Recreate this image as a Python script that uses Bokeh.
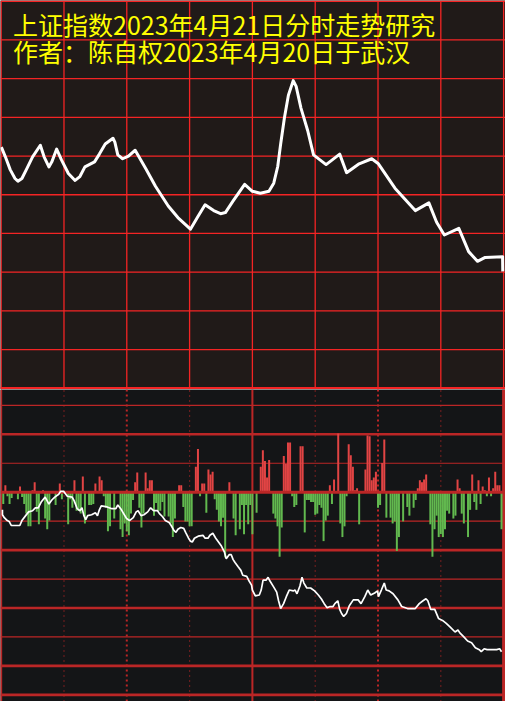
from bokeh.plotting import figure
from bokeh.layouts import column
from bokeh.models import Range1d, Label
from bokeh.embed import file_html
from bokeh.resources import INLINE

# ---------------- data ----------------
title_lines = ["上证指数2023年4月21日分时走势研究", "作者：陈自权2023年4月20日于武汉"]

# trading minutes (0..240) and grid levels
time_ticks = [0, 30, 60, 90, 120, 150, 180, 210, 240]
price_levels = [0, 1, 2, 3, 4, 5, 6, 7, 8, 9, 10]
lower_thin_levels = [3, 1, -1, -3, -5]
lower_thick_levels = [2, -2, -4, -6, -7]

# upper panel: price line (grid units)
price_t = [0.1, 2.0, 4.3, 6.6, 8.0, 9.9, 12.2, 15.0, 18.7, 20.5, 22.8, 24.2, 26.5, 28.8,
           32.1, 35.3, 37.6, 40.0, 44.6, 46.9, 49.7, 53.4, 54.3, 55.7, 58.0, 60.8, 64.0,
           69.1, 73.7, 79.8, 84.4, 90.4, 93.7, 97.4, 101.5, 104.8, 107.1, 110.8, 116.3,
           120.0, 123.8, 127.9, 130.2, 132.1, 133.5, 135.3, 137.2, 139.5, 140.9, 143.2,
           146.4, 149.2, 155.2, 161.7, 165.0, 171.0, 177.0, 180.2, 188.1, 197.8, 204.3,
           208.0, 211.7, 218.6, 223.3, 227.5, 231.2, 239.5, 239.6]
price_v = [6.23, 5.98, 5.65, 5.42, 5.35, 5.42, 5.67, 5.98, 6.28, 5.98, 5.72, 5.85, 6.18, 5.90,
           5.55, 5.37, 5.47, 5.72, 5.85, 6.05, 6.31, 6.46, 6.36, 6.03, 5.93, 6.00, 6.15,
           5.67, 5.22, 4.71, 4.41, 4.11, 4.41, 4.74, 4.59, 4.51, 4.54, 4.84, 5.27,
           5.09, 5.04, 5.09, 5.30, 5.73, 6.31, 6.99, 7.57, 7.95, 7.80, 7.24,
           6.66, 6.03, 5.78, 6.05, 5.57, 5.80, 5.93, 5.80, 5.17, 4.59, 4.79,
           4.29, 3.96, 4.13, 3.53, 3.28, 3.38, 3.40, 3.02]

# lower panel: red (inflow) bars
red_t = [2, 9, 15, 16, 20, 28, 35, 39, 45, 47, 48, 64, 65, 69, 70, 71, 72, 85, 86, 93, 94,
         96, 97, 99, 100, 101, 109, 124, 125, 126, 127, 128, 135, 136, 137, 138, 143, 144,
         157, 159, 161, 166, 167, 168, 169, 170, 174, 175, 176, 177, 178, 179, 182, 183,
         199, 200, 201, 202, 203, 218, 219, 225, 228, 230, 231, 233, 235, 236, 237, 238]
red_v = [0.24, 0.20, 0.07, 0.34, 0.07, 0.30, 0.41, 0.54, 0.30, 0.54, 0.41, 0.34, 0.68, 0.68,
         0.14, 0.41, 0.41, 0.24, 0.24, 0.88, 1.49, 0.30, 0.30, 0.78, 0.61, 0.71, 0.34, 0.88,
         1.45, 1.08, 0.51, 1.11, 1.25, 0.98, 1.72, 1.72, 1.59, 1.59, 0.24, 0.44, 2.03, 1.66,
         1.28, 0.88, 0.07, 0.14, 0.78, 1.96, 1.93, 0.41, 0.51, 0.71, 1.01, 1.82, 0.14, 0.41,
         0.34, 0.44, 0.61, 0.44, 0.14, 0.61, 0.41, 0.20, 0.07, 0.51, 0.14, 0.71, 0.24, 0.24]

# lower panel: green (outflow) bars
green_t = [1, 3, 4, 5, 8, 10, 11, 12, 13, 14, 17, 18, 21, 22, 23, 26, 29, 32, 33, 34, 36, 37,
           38, 40, 42, 43, 44, 49, 50, 51, 52, 54, 57, 58, 59, 60, 61, 62, 63, 66, 67, 68,
           73, 74, 75, 76, 77, 78, 80, 81, 82, 83, 87, 88, 89, 90, 91, 95, 98, 102, 103,
           104, 105, 106, 107, 111, 112, 114, 115, 116, 117, 118, 119, 120, 122, 130, 131,
           132, 133, 134, 139, 140, 141, 145, 146, 147, 148, 149, 150, 151, 152, 153, 154,
           155, 156, 158, 162, 163, 164, 165, 171, 180, 181, 184, 186, 187, 188, 189, 190,
           192, 194, 195, 197, 198, 205, 206, 207, 208, 209, 210, 211, 212, 213, 214, 216,
           217, 220, 221, 223, 224, 226, 227, 229, 232, 234, 239]
green_v = [-0.41, -0.14, -0.41, -0.20, -0.24, -0.17, -0.41, -0.74, -1.18, -1.18, -0.68, -1.11,
           -0.91, -1.28, -0.98, -0.44, -0.24, -1.11, -0.24, -0.54, -0.64, -0.64, -0.74, -1.08,
           -0.44, -0.44, -0.41, -0.14, -0.54, -1.35, -1.18, -0.91, -1.28, -1.55, -1.08, -1.35,
           -1.49, -0.74, -0.27, -0.54, -1.22, -0.74, -0.81, -0.37, -0.64, -0.64, -0.34, -0.84,
           -0.84, -1.08, -1.55, -0.91, -0.51, -1.01, -1.01, -1.18, -1.18, -0.14, -0.71, -0.24,
           -0.61, -1.01, -1.18, -0.88, -2.26, -0.91, -1.49, -1.28, -0.44, -1.45, -0.44, -1.11,
           -0.44, -1.45, -0.71, -0.74, -0.91, -1.18, -2.23, -1.22, -0.14, -0.51, -0.44, -1.39,
           -0.27, -0.27, -0.34, -0.34, -0.78, -0.74, -0.44, -0.54, -1.69, -0.98, -0.81, -0.41,
           -1.08, -1.55, -1.18, -0.14, -1.11, -0.54, -0.44, -0.88, -0.88, -1.08, -1.01, -2.03,
           -1.55, -1.01, -0.51, -0.81, -0.54, -0.27, -1.11, -2.23, -1.28, -0.81, -1.55, -1.45,
           -1.55, -1.28, -0.64, -0.74, -0.91, -0.81, -0.74, -1.08, -1.55, -0.61, -0.34, -0.61,
           -0.41, -0.14, -0.14, -1.28]

# lower panel: cumulative line
flow_t = [0.6, 0.6, 1.5, 2.9, 3.8, 4.8, 7.1, 8.9, 9.9, 11.7, 13.1, 15.0, 16.3, 17.7, 19.1,
          21.0, 22.8, 24.2, 25.6, 27.5, 28.4, 29.8, 31.6, 33.9, 34.9, 36.3, 37.6, 38.6, 39.5,
          40.4, 41.3, 43.2, 45.0, 46.0, 46.9, 47.8, 50.6, 52.9, 54.8, 55.7, 57.1, 58.5, 59.9,
          61.3, 63.1, 64.5, 65.4, 66.8, 68.2, 70.0, 71.4, 72.8, 74.7, 75.6, 77.0, 78.4, 80.2,
          81.2, 82.5, 83.5, 84.4, 85.8, 87.2, 88.1, 89.5, 90.4, 91.3, 92.3, 94.1, 96.4, 97.4,
          98.8, 99.7, 101.1, 102.5, 103.8, 105.2, 106.6, 107.5, 108.9, 109.9, 110.8, 111.7,
          113.1, 114.5, 115.4, 117.3, 118.2, 119.6, 120.0, 121.4, 123.3, 124.2, 125.1, 126.5,
          127.5, 128.4, 130.2, 131.6, 132.5, 133.5, 134.9, 136.2, 137.6, 139.5, 140.4, 141.3,
          142.7, 143.7, 144.6, 146.0, 147.8, 149.7, 151.5, 152.9, 154.3, 155.7, 157.1, 158.5,
          159.4, 160.8, 161.7, 162.6, 163.6, 164.9, 166.3, 168.2, 170.5, 171.9, 173.7, 175.1,
          176.5, 178.4, 179.8, 180.2, 181.6, 183.0, 183.9, 185.3, 187.2, 189.5, 191.3, 194.1,
          197.8, 199.7, 201.5, 202.9, 203.8, 205.2, 207.1, 208.9, 210.8, 212.6, 214.5, 216.8,
          218.2, 219.1, 221.0, 222.8, 224.7, 226.5, 228.4, 229.3, 230.7, 232.1, 236.7, 238.1,
          239.0]
flow_v = [-0.61, -0.78, -0.88, -0.98, -1.01, -1.15, -1.15, -1.15, -0.98, -0.81, -0.68, -0.64,
          -0.54, -0.54, -0.34, -0.17, -0.41, -0.27, -0.17, -0.07, 0.03, 0.03, -0.14, -0.17,
          -0.30, -0.57, -0.64, -0.54, -0.81, -0.95, -0.81, -0.78, -0.71, -0.81, -0.61, -0.47,
          -0.51, -0.57, -0.57, -0.44, -0.57, -0.74, -0.91, -0.98, -0.88, -0.68, -0.64, -0.81,
          -0.78, -0.68, -0.54, -0.64, -0.64, -0.74, -0.84, -0.98, -1.05, -1.15, -1.32, -1.39,
          -1.28, -1.22, -1.25, -1.39, -1.59, -1.69, -1.72, -1.59, -1.52, -1.49, -1.59, -1.59,
          -1.49, -1.42, -1.59, -1.72, -1.86, -2.06, -2.30, -2.16, -2.16, -2.33, -2.43, -2.57,
          -2.70, -2.87, -2.91, -3.04, -3.21, -3.38, -3.58, -3.55, -3.38, -3.04, -3.04, -2.94,
          -3.07, -3.28, -3.45, -3.75, -4.02, -3.85, -3.61, -3.38, -3.41, -3.38, -3.51, -3.24,
          -2.94, -3.14, -3.31, -3.31, -3.41, -3.55, -3.68, -3.85, -3.99, -3.95, -3.95, -3.85,
          -3.75, -4.05, -4.19, -4.29, -4.19, -3.92, -3.72, -3.72, -3.85, -3.61, -3.38, -3.55,
          -3.48, -3.41, -3.61, -3.38, -3.14, -3.38, -3.41, -3.51, -3.72, -3.95, -4.02, -4.02,
          -3.85, -3.75, -3.68, -3.75, -4.05, -4.05, -4.36, -4.43, -4.53, -4.66, -4.83, -4.76,
          -4.86, -5.00, -5.14, -5.20, -5.37, -5.44, -5.51, -5.41, -5.44, -5.44, -5.41, -5.51]

# ---------------- style ----------------
W = 505
H_TOP = 389
H_BOT = 312
X_LO, X_HI = -0.324, 240.9

TOP_BG = "#201a18"
BOT_BG = "#141517"
TOP_GRID = "#f42424"
BOT_GRID = "#bb2626"
RED = "#e24444"
GREEN = "#62b94f"
YELLOW = "#ffff00"


def base_fig(h, y0, y1, bg):
    p = figure(width=W, height=h, x_range=Range1d(X_LO, X_HI), y_range=Range1d(y0, y1),
               toolbar_location=None, output_backend="svg", min_border=0,
               x_axis_location=None, y_axis_location=None)
    p.background_fill_color = bg
    p.border_fill_color = bg
    p.outline_line_color = None
    p.xgrid.visible = False
    p.ygrid.visible = False
    return p


# ---------- upper panel ----------
top = base_fig(H_TOP, -0.033, 10.02, TOP_BG)
top.segment(x0=time_ticks, x1=time_ticks, y0=[price_levels[0]] * len(time_ticks),
            y1=[price_levels[-1]] * len(time_ticks), line_color=TOP_GRID, line_width=1.3)
top.segment(x0=[X_LO] * len(price_levels), x1=[X_HI] * len(price_levels),
            y0=price_levels, y1=price_levels, line_color=TOP_GRID, line_width=1.3)
top.segment(x0=[X_LO], x1=[X_HI], y0=[price_levels[0]], y1=[price_levels[0]],
            line_color=TOP_GRID, line_width=2.2)
top.line(price_t, price_v, line_color="white", line_width=3, line_join="round")

for i, txt in enumerate(title_lines):
    top.add_layout(Label(x=12.6, y=H_TOP - 23.5 - 26.5 * i, x_units="screen", y_units="screen",
                         text=txt, text_color=YELLOW, text_font="Noto Sans CJK SC",
                         text_font_size="25px", text_baseline="middle", text_align="left"))

# ---------- lower panel ----------
bot = base_fig(H_BOT, -7.23, 3.547, BOT_BG)
n_thin = len(lower_thin_levels)
n_thick = len(lower_thick_levels)
bot.segment(x0=[X_LO] * n_thin, x1=[X_HI] * n_thin, y0=lower_thin_levels, y1=lower_thin_levels,
            line_color=BOT_GRID, line_width=1.2)
bot.segment(x0=[X_LO] * n_thick, x1=[X_HI] * n_thick, y0=lower_thick_levels,
            y1=lower_thick_levels, line_color=BOT_GRID, line_width=2.6)

y_lo, y_hi = -7.23, 3.547
solid_v = [time_ticks[0], time_ticks[4]]
bot.segment(x0=solid_v, x1=solid_v, y0=[y_lo] * 2, y1=[y_hi] * 2, line_color=BOT_GRID, line_width=2)
bot.segment(x0=[time_ticks[8]], x1=[time_ticks[8]], y0=[y_lo], y1=[y_hi],
            line_color=BOT_GRID, line_width=3)
fine_v = [time_ticks[1], time_ticks[3], time_ticks[5], time_ticks[7]]
bot.segment(x0=fine_v, x1=fine_v, y0=[y_lo] * 4, y1=[y_hi] * 4, line_color=BOT_GRID,
            line_width=1.2, line_dash="1 4")
mid_v = [time_ticks[2], time_ticks[6]]
bot.segment(x0=mid_v, x1=mid_v, y0=[y_lo] * 2, y1=[y_hi] * 2, line_color=BOT_GRID,
            line_width=2, line_dash="2 3")

bot.vbar(x=red_t, top=red_v, bottom=0, width=0.95, fill_color=RED, line_color=None)
bot.vbar(x=green_t, top=0, bottom=green_v, width=0.95, fill_color=GREEN, line_color=None)
bot.segment(x0=[X_LO], x1=[X_HI], y0=[0], y1=[0], line_color=BOT_GRID, line_width=3)
bot.line(flow_t, flow_v, line_color="white", line_width=1.7)

layout = column(top, bot, spacing=0)
open("out.html", "w").write(file_html(layout, INLINE))
